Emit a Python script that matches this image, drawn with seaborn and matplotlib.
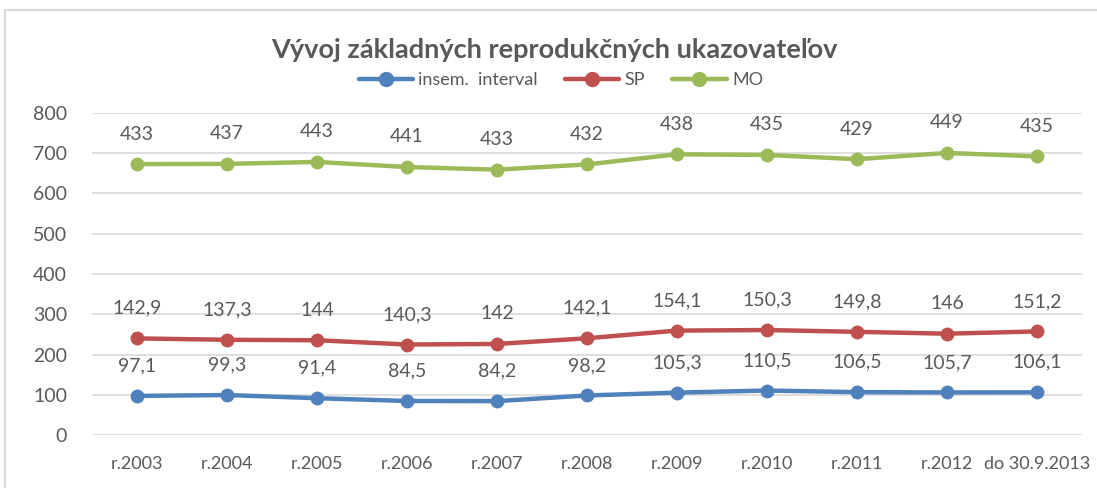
import numpy as np
import pandas as pd
import matplotlib
matplotlib.use("Agg")
import matplotlib.pyplot as plt
from matplotlib.patches import Rectangle
from matplotlib.lines import Line2D
import seaborn as sns

categories = ["r.2003", "r.2004", "r.2005", "r.2006", "r.2007", "r.2008",
              "r.2009", "r.2010", "r.2011", "r.2012", "do 30.9.2013"]
insem = [97.1, 99.3, 91.4, 84.5, 84.2, 98.2, 105.3, 110.5, 106.5, 105.7, 106.1]
sp = [142.9, 137.3, 144, 140.3, 142, 142.1, 154.1, 150.3, 149.8, 146, 151.2]
mo = [433, 437, 443, 441, 433, 432, 438, 435, 429, 449, 435]
series_names = ["insem.  interval", "SP", "MO"]
colors = ["#4F81BD", "#C0504D", "#9BBB59"]
title = "Vývoj základných reprodukčných ukazovateľov"

sns.set_theme(style="white")
plt.rcParams["font.family"] = ["Lato", "DejaVu Sans"]
txt = "#595959"

vals = np.array([insem, sp, mo], dtype=float)
stacked = np.cumsum(vals, axis=0)

rows = []
for si, name in enumerate(series_names):
    for ci, cat in enumerate(categories):
        rows.append({"series": name, "x": ci, "cat": cat,
                     "value": vals[si, ci], "stacked": stacked[si, ci]})
df = pd.DataFrame(rows)

fig = plt.figure(figsize=(10.97, 4.88), dpi=100)
W, H = 1097, 488
ax = fig.add_axes([92 / W, (H - 435) / H, (1082 - 92) / W, (435 - 113) / H])

sns.lineplot(data=df, x="x", y="stacked", hue="series", palette=colors,
             hue_order=series_names, marker="o", markersize=10,
             markeredgewidth=0, linewidth=3.2, ax=ax, legend=False)

def fmt(v):
    if float(v).is_integer():
        return f"{int(v)}"
    return f"{v:.1f}".replace(".", ",")

for _, r in df.iterrows():
    ax.annotate(fmt(r["value"]), (r["x"], r["stacked"]), xytext=(0, 15.5),
                textcoords="offset points", ha="center", va="bottom",
                fontsize=14, color=txt)

ax.set_xlim(-0.5, len(categories) - 0.5)
ax.set_ylim(0, 800)
ax.set_yticks(range(0, 801, 100))
ax.set_xticks(range(len(categories)))
ax.set_xticklabels(categories)
ax.set_xlabel("")
ax.set_ylabel("")
ax.grid(axis="y", color="#D9D9D9", linewidth=1.2)
ax.grid(axis="x", visible=False)
for s in ax.spines.values():
    s.set_visible(False)
ax.tick_params(axis="y", labelsize=14, colors=txt, pad=18, length=0)
ax.tick_params(axis="x", labelsize=13, colors=txt, pad=15, length=0)

fig.text(554 / W, 1 - 50 / H, title, ha="center", va="center",
         fontsize=19.5, fontweight="bold", color=txt)

handles = [Line2D([], [], color=c, lw=3.2, marker="o", markersize=10) for c in colors]
fig.legend(handles, series_names, loc="center", bbox_to_anchor=(561 / W, 1 - 80 / H),
           ncol=3, frameon=False, fontsize=13, labelcolor=txt,
           handlelength=3, handletextpad=0.3, columnspacing=1.5)

fig.patches.append(Rectangle((5 / W, -0.05), 1.2, 1 - 10 / H + 0.05,
                             transform=fig.transFigure, fill=False,
                             edgecolor="#D9D9D9", linewidth=1.5))

fig.savefig("out.png", dpi=100, facecolor="white")
